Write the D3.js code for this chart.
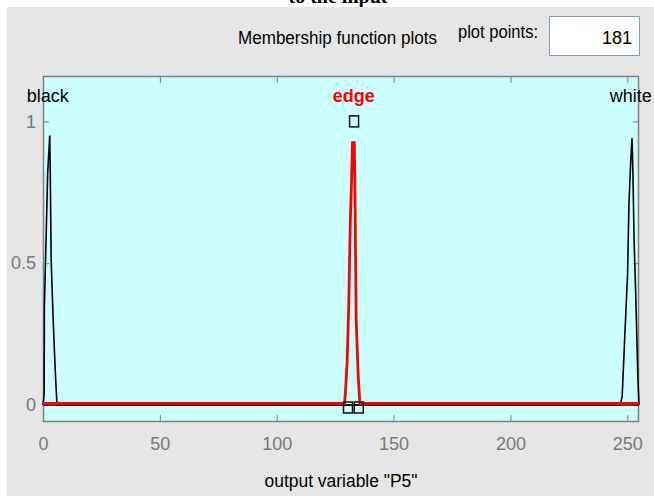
<!DOCTYPE html>
<html>
<head>
<meta charset="utf-8">
<script src="https://cdn.jsdelivr.net/npm/d3@7"></script>
<style>
  html, body { margin: 0; padding: 0; background: #ffffff; }
  svg { display: block; }
</style>
</head>
<body>
<svg id="chart" width="654" height="496"></svg>
<script>
// ---- data ----
const mfNames = ["black", "edge", "white"];
const mfLabelX = [2, 133, 251.5];
const blackMF = [[0,0],[0.5,0.04],[0.6,0.35],[1.3,0.58],[2.0,0.82],[2.9,0.95],[3.1,0.82],[3.5,0.51],[4.3,0.31],[5.3,0.11],[6,0],[255,0]];
const edgeMF = [[0,0],[129,0],[129.4,0.04],[130.1,0.14],[130.8,0.34],[131.5,0.65],[132,0.78],[132.4,0.92],[133.2,0.92],[133.6,0.65],[134,0.29],[134.9,0.09],[135.6,0],[255,0]];
const whiteMF = [[0,0],[247,0],[247.8,0.03],[248.8,0.22],[250.1,0.46],[250.7,0.71],[251.4,0.85],[252,0.94],[252.4,0.82],[252.9,0.58],[253.6,0.39],[254.5,0.10],[255,0]];
const edgeHandles = [[130.5,0],[133.1,1],[135.1,0]];
const xTicks = [0, 50, 100, 150, 200, 250];
const yTicks = [0, 0.5, 1];
const yTickLabels = ["0", "0.5", "1"];
const xDomain = [0, 255];
const yDomain = [-0.06, 1.16];
const titleText = "Membership function plots";
const plotPointsLabel = "plot points:";
const plotPointsValue = "181";
const xAxisTitle = 'output variable "P5"';
const topCaption = "to the input";

// ---- drawing ----
const svg = d3.select("#chart");
const font = "'Liberation Sans Narrow', 'Arial Narrow', 'Liberation Sans', Arial, sans-serif";

// top caption (clipped)
svg.append("text").attr("x", 338).attr("y", 3).attr("text-anchor", "middle")
  .attr("font-family", "'Liberation Serif', 'Times New Roman', serif")
  .attr("font-weight", "bold").attr("font-size", 20).attr("fill", "#000")
  .text(topCaption);

// gray panel
svg.append("rect").attr("x", 7).attr("y", 7).attr("width", 647).attr("height", 489).attr("fill", "#e6e6e6");

// header
svg.append("text").attr("x", 238).attr("y", 44).attr("font-family", font).attr("font-size", 18)
  .attr("textLength", 199).attr("lengthAdjust", "spacingAndGlyphs").attr("fill", "#000").text(titleText);
svg.append("text").attr("x", 458).attr("y", 38).attr("font-family", font).attr("font-size", 18)
  .attr("textLength", 80).attr("lengthAdjust", "spacingAndGlyphs").attr("fill", "#000").text(plotPointsLabel);
svg.append("rect").attr("x", 549.5).attr("y", 16.5).attr("width", 90).attr("height", 39)
  .attr("fill", "#ffffff").attr("stroke", "#7f9db9").attr("stroke-width", 1);
svg.append("text").attr("x", 632).attr("y", 44).attr("text-anchor", "end").attr("font-family", font).attr("font-size", 18)
  .attr("fill", "#000").text(plotPointsValue);

// scales
const L = 43, R = 639, T = 76, B = 422;
const x = d3.scaleLinear().domain(xDomain).range([L, R]);
const y = d3.scaleLinear().domain(yDomain).range([B, T]);

svg.append("rect").attr("x", L).attr("y", T).attr("width", R - L).attr("height", B - T).attr("fill", "#ccffff");

// axes
const axisColor = "#808080";
const gx = svg.append("g").attr("transform", `translate(0,${B})`)
  .call(d3.axisBottom(x).tickValues(xTicks).tickSize(-7).tickPadding(15).tickFormat(d3.format("d")));
const gxt = svg.append("g").attr("transform", `translate(0,${T})`)
  .call(d3.axisTop(x).tickValues(xTicks).tickSize(-7).tickFormat(""));
const gy = svg.append("g").attr("transform", `translate(${L},0)`)
  .call(d3.axisLeft(y).tickValues(yTicks).tickSize(-6).tickPadding(7).tickFormat((d, i) => yTickLabels[i]));
const gyr = svg.append("g").attr("transform", `translate(${R},0)`)
  .call(d3.axisRight(y).tickValues(yTicks).tickSize(-6).tickFormat(""));
[gx, gxt, gy, gyr].forEach(g => {
  g.select(".domain").remove();
  g.selectAll("line").attr("stroke", axisColor);
  g.selectAll("text").attr("fill", "#7a7a7a").attr("font-family", font).attr("font-size", 18);
});
// frame
svg.append("rect").attr("x", L + 0.5).attr("y", T + 0.5).attr("width", R - L - 1).attr("height", B - T - 1)
  .attr("fill", "none").attr("stroke", axisColor).attr("stroke-width", 1.5);

// curves
const line = d3.line().x(d => x(d[0])).y(d => y(d[1]));
const gc = svg.append("g");
[blackMF, whiteMF].forEach(mf => {
  gc.append("path").attr("d", line(mf)).attr("fill", "none").attr("stroke", "#000").attr("stroke-width", 1.6);
});
gc.append("path").attr("d", line(edgeMF)).attr("fill", "none").attr("stroke", "#ff0000")
  .attr("stroke-width", 2.8).attr("transform", "translate(0,-1.5)");

// handles
svg.append("g").selectAll("rect").data(edgeHandles).join("rect")
  .attr("x", d => x(d[0]) - 4.5).attr("y", d => y(d[1]) - (d[1] === 0 ? 3 : 5.5))
  .attr("width", 9).attr("height", 11).attr("fill", "none").attr("stroke", "#111").attr("stroke-width", 1.5);

// labels
const labelColors = ["#000", "#ff0000", "#000"];
svg.append("g").selectAll("text").data(mfNames).join("text")
  .attr("x", (d, i) => x(mfLabelX[i])).attr("y", y(1.07)).attr("text-anchor", "middle")
  .attr("font-family", font).attr("font-size", 18)
  .attr("font-weight", (d, i) => i === 1 ? "bold" : "normal")
  .attr("fill", (d, i) => labelColors[i]).text(d => d);

// x axis title
svg.append("text").attr("x", 341).attr("y", 487).attr("text-anchor", "middle").attr("font-family", font)
  .attr("font-size", 18).attr("textLength", 153).attr("lengthAdjust", "spacingAndGlyphs").attr("fill", "#000").text(xAxisTitle);
</script>
</body>
</html>
